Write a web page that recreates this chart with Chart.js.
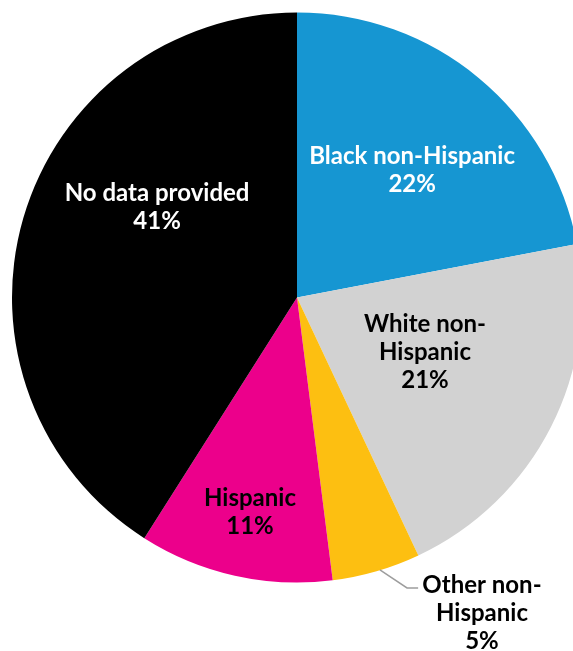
<!DOCTYPE html>
<html>
<head>
<meta charset="utf-8">
<script src="https://cdn.jsdelivr.net/npm/chart.js@4/dist/chart.umd.min.js"></script>
<style>
  html, body { margin: 0; padding: 0; background: #fff; overflow: hidden; }
  #wrap { width: 573px; height: 651px; overflow: hidden; }
</style>
</head>
<body>
<div id="wrap"><canvas id="pie" width="594" height="651"></canvas></div>
<script>
// groups, clockwise from 12 o'clock
const groups = ["Black non-Hispanic", "White non-Hispanic", "Other non-Hispanic", "Hispanic", "No data provided"]
const shares = [22, 21, 5, 11, 41]
const sliceColors = ["#1696d2", "#d2d2d2", "#fdbf11", "#ec008b", "#000000"]

// how each label is broken into lines
const labelLines = [
  ["Black non-Hispanic", "22%"],
  ["White non-", "Hispanic", "21%"],
  ["Other non-", "Hispanic", "5%"],
  ["Hispanic", "11%"],
  ["No data provided", "41%"]
]

// label centre, as fraction of the radius from the pie centre
const labelPos = [
  [0.404, -0.446],
  [0.449, 0.193],
  [0.649, 1.109],
  [-0.165, 0.754],
  [-0.491, -0.316]
]
const labelColor = ["#fff", "#000", "#000", "#000", "#fff"]

// leader line for the small slice (fractions of radius)
const leader = [[0.291, 0.956], [0.386, 1.019], [0.425, 1.019]]

const pieLabels = {
  id: "pieLabels",
  afterDraw(chart) {
    const ctx = chart.ctx
    const arc = chart.getDatasetMeta(0).data[0]
    const cx = arc.x, cy = arc.y, r = arc.outerRadius

    // leader line
    ctx.save()
    ctx.strokeStyle = "#9d9d9d"
    ctx.lineWidth = 1.5
    ctx.beginPath()
    leader.forEach((p, i) => {
      const x = cx + p[0] * r, y = cy + p[1] * r
      if (i == 0) ctx.moveTo(x, y)
      else ctx.lineTo(x, y)
    })
    ctx.stroke()

    ctx.font = "bold 24px Lato"
    ctx.textAlign = "center"
    ctx.textBaseline = "middle"
    const lh = 28
    labelLines.forEach((lines, i) => {
      const x = cx + labelPos[i][0] * r
      const y0 = cy + labelPos[i][1] * r - (lines.length - 1) * lh / 2
      ctx.fillStyle = labelColor[i]
      lines.forEach((t, j) => ctx.fillText(t, x, y0 + j * lh))
    })
    ctx.restore()
  }
}

new Chart("pie", {
  type: "pie",
  data: {
    labels: groups,
    datasets: [{
      data: shares,
      backgroundColor: sliceColors,
      borderWidth: 0
    }]
  },
  options: {
    responsive: false,
    animation: false,
    devicePixelRatio: 1,
    layout: { padding: { left: 12, right: 12, top: 12, bottom: 68 } },
    plugins: {
      legend: { display: false },
      tooltip: { enabled: false }
    }
  },
  plugins: [pieLabels]
})
</script>
</body>
</html>
